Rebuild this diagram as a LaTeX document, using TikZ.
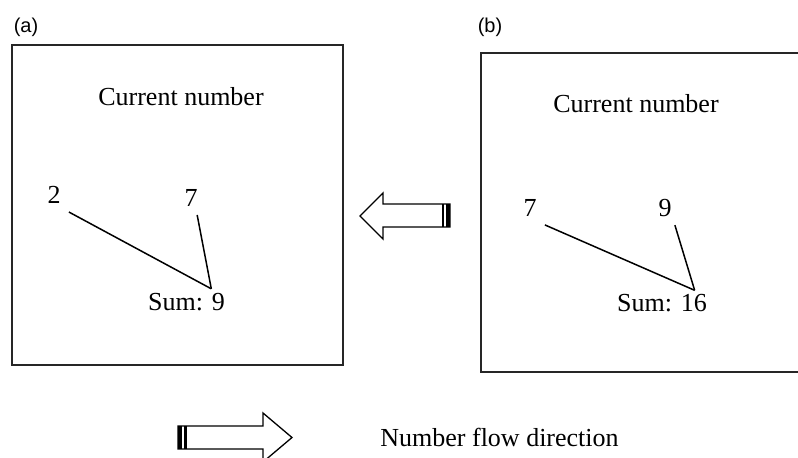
\documentclass[tikz,border=0pt]{standalone}
\usepackage{fontspec}
\setmainfont{Liberation Serif}
\newfontfamily\labelsf{Liberation Sans}
\tikzset{
  sotext/.style={font=\fontsize{13}{15}\selectfont, inner sep=0pt},
  sonum/.style={font=\fontsize{13}{15}\selectfont, inner sep=4pt},
  khung/.style={line width=1pt, draw=black!85},
  noi/.style={line width=0.75pt},
  muiten/.style={line width=0.65pt, fill=white}
}
\begin{document}
\begin{tikzpicture}[x=0.5pt,y=-0.5pt]
				\useasboundingbox (0,0) rectangle (798,457);
				\clip (0,0) rectangle (798,457);
				
				% Nhan (a), (b)
				\node[font=\labelsf\fontsize{10}{12}\selectfont] (nhana) at (26,27) {(a)};
				\node[font=\labelsf\fontsize{10}{12}\selectfont] (nhanb) at (490,27) {(b)};
				
				% Khung (a)
				\draw[khung] (12,45) rectangle (343,365);
				\node[sotext] (atitle) at (181,97) {Current number};
				\node[sonum] (a2) at (54,195) {2};
				\node[sonum] (a7) at (191,198) {7};
				\node[sotext, inner sep=2pt] (asum) at (186.5,302) {Sum: 9};
				\draw[noi] (a2.south east) -- (asum.28);
				\draw[noi] (a7.-70) -- (asum.28);
				
				% Khung (b)
				\draw[khung] (481,53) rectangle (810,372);
				\node[sotext] (btitle) at (636,104) {Current number};
				\node[sonum] (b7) at (530,208) {7};
				\node[sonum] (b9) at (665,208) {9};
				\node[sotext, inner sep=2pt] (bsum) at (662,303.5) {Sum: 16};
				\draw[noi] (b7.south east) -- (bsum.22);
				\draw[noi] (b9.-60) -- (bsum.22);
				
				% Mui ten giua hai khung
				\draw[muiten] (450,204) -- (383,204) -- (383,193) -- (360,216) -- (383,239) -- (383,227) -- (450,227) -- cycle;
				\fill (441.5,204) rectangle (443.5,227);
				\fill (446,204) rectangle (450,227);
				
				% Chu thich huong
				\draw[muiten] (178,426) -- (263,426) -- (263,413) -- (292,437.5) -- (263,462) -- (263,449) -- (178,449) -- cycle;
				\fill (178,426) rectangle (182,449);
				\fill (183.5,426) rectangle (186.5,449);
				\node[sotext, anchor=west] (chuthich) at (380,437) {Number flow direction};
			\end{tikzpicture}
\end{document}
